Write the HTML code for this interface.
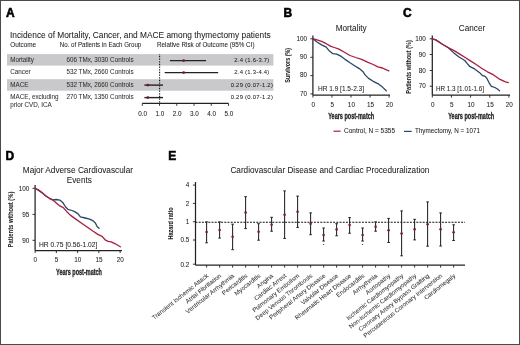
<!DOCTYPE html>
<html><head><meta charset="utf-8"><style>
html,body{margin:0;padding:0;background:#fff;}
body{width:520px;height:345px;overflow:hidden;position:relative;}
.frame{position:absolute;left:0;top:0;width:518px;height:343px;border:1px solid #4a4a4a;}
svg{position:absolute;left:0;top:0;filter:blur(0.3px);}
text{font-family:"Liberation Sans", sans-serif;stroke:#222;stroke-width:0.05px;paint-order:stroke;}
</style></head><body>
<svg width="520" height="345" viewBox="0 0 520 345">
<text x="5.9" y="16.8" font-size="12" text-anchor="start" font-weight="bold" fill="#000" style="stroke:#000;stroke-width:0.55px">A</text>
<text x="10" y="37.5" font-size="8.34" text-anchor="start" font-weight="normal" fill="#222" textLength="260.7" lengthAdjust="spacingAndGlyphs" >Incidence of Mortality, Cancer, and MACE among thymectomy patients</text>
<text x="10.2" y="47" font-size="6.7" text-anchor="start" font-weight="normal" fill="#222" textLength="25.9" lengthAdjust="spacingAndGlyphs" >Outcome</text>
<text x="59.8" y="47" font-size="6.7" text-anchor="start" font-weight="normal" fill="#222" textLength="81.5" lengthAdjust="spacingAndGlyphs" >No. of Patients in Each Group</text>
<text x="157" y="47" font-size="6.7" text-anchor="start" font-weight="normal" fill="#222" textLength="97.5" lengthAdjust="spacingAndGlyphs" >Relative Risk of Outcome (95% CI)</text>
<rect x="7" y="54.1" width="266.4" height="11.5" fill="#c9c9cb"/>
<rect x="7" y="79.2" width="266.4" height="11.5" fill="#c9c9cb"/>
<text x="10.2" y="62.3" font-size="6.3" text-anchor="start" font-weight="normal" fill="#333" >Mortality</text>
<text x="100" y="62.3" font-size="6.3" text-anchor="middle" font-weight="normal" fill="#333" >606 TMx, 3030 Controls</text>
<text x="251.9" y="62.3" font-size="5.9" text-anchor="middle" font-weight="normal" fill="#222" letter-spacing="0.25">2.4 (1.6-3.7)</text>
<line x1="169.88400000000001" y1="60.599999999999994" x2="206.08800000000002" y2="60.599999999999994" stroke="#222" stroke-width="1.4" />
<circle cx="183.68" cy="60.599999999999994" r="1.4" fill="#7a1233"/>
<text x="10.2" y="74.3" font-size="6.3" text-anchor="start" font-weight="normal" fill="#333" >Cancer</text>
<text x="100" y="74.3" font-size="6.3" text-anchor="middle" font-weight="normal" fill="#333" >532 TMx, 2660 Controls</text>
<text x="251.9" y="74.3" font-size="5.9" text-anchor="middle" font-weight="normal" fill="#222" letter-spacing="0.25">2.4 (1.3-4.4)</text>
<line x1="164.71200000000002" y1="72.6" x2="218.156" y2="72.6" stroke="#222" stroke-width="1.4" />
<circle cx="183.68" cy="72.6" r="1.4" fill="#7a1233"/>
<text x="10.2" y="86.8" font-size="6.3" text-anchor="start" font-weight="normal" fill="#333" >MACE</text>
<text x="100" y="86.8" font-size="6.3" text-anchor="middle" font-weight="normal" fill="#333" >532 TMx, 2660 Controls</text>
<text x="251.9" y="86.8" font-size="5.9" text-anchor="middle" font-weight="normal" fill="#222" letter-spacing="0.25">0.29 (0.07-1.2)</text>
<line x1="144.4" y1="85.1" x2="162.988" y2="85.1" stroke="#222" stroke-width="1.4" />
<circle cx="147.90" cy="85.1" r="1.4" fill="#7a1233"/>
<text x="10.2" y="99.3" font-size="6.3" text-anchor="start" font-weight="normal" fill="#333" >MACE, excluding</text>
<text x="100" y="99.3" font-size="6.3" text-anchor="middle" font-weight="normal" fill="#333" >270 TMx, 1350 Controls</text>
<text x="251.9" y="99.3" font-size="5.9" text-anchor="middle" font-weight="normal" fill="#222" letter-spacing="0.25">0.29 (0.07-1.2)</text>
<line x1="144.4" y1="97.6" x2="162.988" y2="97.6" stroke="#222" stroke-width="1.4" />
<circle cx="147.90" cy="97.6" r="1.4" fill="#7a1233"/>
<text x="10.2" y="107" font-size="6.3" text-anchor="start" font-weight="normal" fill="#333" >prior CVD, ICA</text>
<line x1="159.6" y1="54.5" x2="159.6" y2="103.3" stroke="#111" stroke-width="1.1" stroke-dasharray="0.8 0.8"/>
<line x1="142.3" y1="103.4" x2="228.5" y2="103.4" stroke="#222" stroke-width="1.25" />
<line x1="142.3" y1="103.4" x2="142.3" y2="105.8" stroke="#222" stroke-width="0.9" />
<text x="142.70000000000002" y="115.6" font-size="6.4" text-anchor="middle" font-weight="normal" fill="#222" >0.0</text>
<line x1="159.54000000000002" y1="103.4" x2="159.54000000000002" y2="105.8" stroke="#222" stroke-width="0.9" />
<text x="159.94000000000003" y="115.6" font-size="6.4" text-anchor="middle" font-weight="normal" fill="#222" >1.0</text>
<line x1="176.78" y1="103.4" x2="176.78" y2="105.8" stroke="#222" stroke-width="0.9" />
<text x="177.18" y="115.6" font-size="6.4" text-anchor="middle" font-weight="normal" fill="#222" >2.0</text>
<line x1="194.02" y1="103.4" x2="194.02" y2="105.8" stroke="#222" stroke-width="0.9" />
<text x="194.42000000000002" y="115.6" font-size="6.4" text-anchor="middle" font-weight="normal" fill="#222" >3.0</text>
<line x1="211.26" y1="103.4" x2="211.26" y2="105.8" stroke="#222" stroke-width="0.9" />
<text x="211.66" y="115.6" font-size="6.4" text-anchor="middle" font-weight="normal" fill="#222" >4.0</text>
<line x1="228.5" y1="103.4" x2="228.5" y2="105.8" stroke="#222" stroke-width="0.9" />
<text x="228.9" y="115.6" font-size="6.4" text-anchor="middle" font-weight="normal" fill="#222" >5.0</text>
<text x="283.4" y="16.8" font-size="12" text-anchor="start" font-weight="bold" fill="#000" style="stroke:#000;stroke-width:0.55px">B</text>
<text x="351.2" y="30.5" font-size="8.2" text-anchor="middle" font-weight="normal" fill="#222" >Mortality</text>
<line x1="312.9" y1="35.6" x2="312.9" y2="95" stroke="#222" stroke-width="1.25" />
<line x1="312.9" y1="95" x2="390" y2="95" stroke="#222" stroke-width="1.25" />
<line x1="310.29999999999995" y1="38.8" x2="312.9" y2="38.8" stroke="#222" stroke-width="0.9" />
<text x="307.09999999999997" y="40.599999999999994" font-size="6.4" text-anchor="end" font-weight="normal" fill="#222" >100</text>
<line x1="310.29999999999995" y1="57.3" x2="312.9" y2="57.3" stroke="#222" stroke-width="0.9" />
<text x="307.09999999999997" y="59.099999999999994" font-size="6.4" text-anchor="end" font-weight="normal" fill="#222" >90</text>
<line x1="310.29999999999995" y1="75.6" x2="312.9" y2="75.6" stroke="#222" stroke-width="0.9" />
<text x="307.09999999999997" y="77.39999999999999" font-size="6.4" text-anchor="end" font-weight="normal" fill="#222" >80</text>
<line x1="310.29999999999995" y1="93.9" x2="312.9" y2="93.9" stroke="#222" stroke-width="0.9" />
<text x="307.09999999999997" y="95.7" font-size="6.4" text-anchor="end" font-weight="normal" fill="#222" >70</text>
<line x1="312.9" y1="95" x2="312.9" y2="97.6" stroke="#222" stroke-width="0.9" />
<text x="313.29999999999995" y="106.7" font-size="6.4" text-anchor="middle" font-weight="normal" fill="#222" >0</text>
<line x1="331.95" y1="95" x2="331.95" y2="97.6" stroke="#222" stroke-width="0.9" />
<text x="332.34999999999997" y="106.7" font-size="6.4" text-anchor="middle" font-weight="normal" fill="#222" >5</text>
<line x1="351.0" y1="95" x2="351.0" y2="97.6" stroke="#222" stroke-width="0.9" />
<text x="351.4" y="106.7" font-size="6.4" text-anchor="middle" font-weight="normal" fill="#222" >10</text>
<line x1="370.04999999999995" y1="95" x2="370.04999999999995" y2="97.6" stroke="#222" stroke-width="0.9" />
<text x="370.44999999999993" y="106.7" font-size="6.4" text-anchor="middle" font-weight="normal" fill="#222" >15</text>
<line x1="389.09999999999997" y1="95" x2="389.09999999999997" y2="97.6" stroke="#222" stroke-width="0.9" />
<text x="389.49999999999994" y="106.7" font-size="6.4" text-anchor="middle" font-weight="normal" fill="#222" >20</text>
<text x="351.2" y="118.6" font-size="8.8" text-anchor="middle" font-weight="bold" fill="#222" textLength="46" lengthAdjust="spacingAndGlyphs" style="stroke:#222;stroke-width:0.3px">Years post-match</text>
<text transform="translate(289.6,65.3) rotate(-90)" font-size="7.4" font-weight="bold" text-anchor="middle" fill="#222" textLength="34.8" lengthAdjust="spacingAndGlyphs">Survivors (%)</text>
<text x="318" y="91" font-size="6.5" text-anchor="start" font-weight="normal" fill="#222" textLength="46" lengthAdjust="spacingAndGlyphs" >HR 1.9 [1.5-2.3]</text>
<polyline points="312.90,38.70 317.00,42.00 321.60,44.90 326.20,47.20 329.10,50.70 332.60,53.60 336.70,54.10 341.30,56.40 345.90,59.90 350.00,62.80 354.60,65.70 359.30,68.60 362.80,71.40 365.10,74.90 368.60,78.40 373.20,81.30 377.80,83.60 382.50,87.10 386.30,90.80" fill="none" stroke="#27466a" stroke-width="1.3" stroke-linejoin="round" stroke-linecap="round"/>
<polyline points="312.90,38.70 317.00,39.90 321.60,41.40 326.20,43.70 330.90,46.40 334.30,47.50 338.40,48.90 343.60,51.80 350.00,55.50 355.80,57.50 361.60,59.30 367.40,62.20 373.20,64.50 377.80,66.80 382.50,68.00 385.90,69.70 388.80,70.90" fill="none" stroke="#b01b3d" stroke-width="1.3" stroke-linejoin="round" stroke-linecap="round"/>
<text x="403.0" y="16.8" font-size="12" text-anchor="start" font-weight="bold" fill="#000" style="stroke:#000;stroke-width:0.55px">C</text>
<text x="472" y="30.7" font-size="8.2" text-anchor="middle" font-weight="normal" fill="#222" >Cancer</text>
<line x1="432.3" y1="35.6" x2="432.3" y2="95" stroke="#222" stroke-width="1.25" />
<line x1="432.3" y1="95" x2="510" y2="95" stroke="#222" stroke-width="1.25" />
<line x1="429.7" y1="38.8" x2="432.3" y2="38.8" stroke="#222" stroke-width="0.9" />
<text x="425.90000000000003" y="40.8" font-size="6.4" text-anchor="end" font-weight="normal" fill="#222" >100</text>
<line x1="429.7" y1="54.5" x2="432.3" y2="54.5" stroke="#222" stroke-width="0.9" />
<text x="425.90000000000003" y="56.5" font-size="6.4" text-anchor="end" font-weight="normal" fill="#222" >90</text>
<line x1="429.7" y1="70.5" x2="432.3" y2="70.5" stroke="#222" stroke-width="0.9" />
<text x="425.90000000000003" y="72.5" font-size="6.4" text-anchor="end" font-weight="normal" fill="#222" >80</text>
<line x1="429.7" y1="86.2" x2="432.3" y2="86.2" stroke="#222" stroke-width="0.9" />
<text x="425.90000000000003" y="88.2" font-size="6.4" text-anchor="end" font-weight="normal" fill="#222" >70</text>
<line x1="432.3" y1="95" x2="432.3" y2="97.6" stroke="#222" stroke-width="0.9" />
<text x="432.7" y="106.7" font-size="6.4" text-anchor="middle" font-weight="normal" fill="#222" >0</text>
<line x1="451.45" y1="95" x2="451.45" y2="97.6" stroke="#222" stroke-width="0.9" />
<text x="451.84999999999997" y="106.7" font-size="6.4" text-anchor="middle" font-weight="normal" fill="#222" >5</text>
<line x1="470.6" y1="95" x2="470.6" y2="97.6" stroke="#222" stroke-width="0.9" />
<text x="471.0" y="106.7" font-size="6.4" text-anchor="middle" font-weight="normal" fill="#222" >10</text>
<line x1="489.75" y1="95" x2="489.75" y2="97.6" stroke="#222" stroke-width="0.9" />
<text x="490.15" y="106.7" font-size="6.4" text-anchor="middle" font-weight="normal" fill="#222" >15</text>
<line x1="508.9" y1="95" x2="508.9" y2="97.6" stroke="#222" stroke-width="0.9" />
<text x="509.29999999999995" y="106.7" font-size="6.4" text-anchor="middle" font-weight="normal" fill="#222" >20</text>
<text x="471.2" y="118.6" font-size="8.8" text-anchor="middle" font-weight="bold" fill="#222" textLength="46" lengthAdjust="spacingAndGlyphs" style="stroke:#222;stroke-width:0.3px">Years post-match</text>
<text transform="translate(411,66.9) rotate(-90)" font-size="7.4" font-weight="bold" text-anchor="middle" fill="#222" textLength="53.5" lengthAdjust="spacingAndGlyphs">Patients without (%)</text>
<text x="436" y="90.5" font-size="6.5" text-anchor="start" font-weight="normal" fill="#222" textLength="48" lengthAdjust="spacingAndGlyphs" >HR 1.3 [1.01-1.6]</text>
<polyline points="432.30,38.90 435.80,39.90 441.60,43.70 448.60,48.00 453.20,52.40 459.00,57.00 464.80,60.50 467.10,63.40 470.00,66.70 474.60,68.90 479.30,72.40 482.20,75.30 485.10,76.40 486.80,78.20 489.10,82.80 491.40,86.30 494.90,87.50 497.80,89.20 499.60,90.90" fill="none" stroke="#27466a" stroke-width="1.3" stroke-linejoin="round" stroke-linecap="round"/>
<polyline points="432.30,38.90 435.80,39.90 441.60,43.70 448.60,47.80 453.20,50.10 459.00,53.60 464.80,57.30 470.00,60.60 475.80,64.30 481.60,68.30 487.40,71.80 493.20,74.70 499.00,78.80 504.80,81.70 508.30,82.60" fill="none" stroke="#b01b3d" stroke-width="1.3" stroke-linejoin="round" stroke-linecap="round"/>
<line x1="333.5" y1="131.2" x2="340.6" y2="131.2" stroke="#b01b3d" stroke-width="1.2" />
<text x="344" y="133.4" font-size="6.3" text-anchor="start" font-weight="normal" fill="#222" textLength="51" lengthAdjust="spacingAndGlyphs" >Control, N = 5355</text>
<line x1="404" y1="131.4" x2="411.7" y2="131.4" stroke="#27466a" stroke-width="1.2" />
<text x="415" y="133.4" font-size="6.3" text-anchor="start" font-weight="normal" fill="#222" textLength="65" lengthAdjust="spacingAndGlyphs" >Thymectomy, N = 1071</text>
<text x="5.6" y="159.6" font-size="12" text-anchor="start" font-weight="bold" fill="#000" style="stroke:#000;stroke-width:0.55px">D</text>
<text x="77.9" y="173.2" font-size="8.2" text-anchor="middle" font-weight="normal" fill="#222" textLength="110.2" lengthAdjust="spacingAndGlyphs" >Major Adverse Cardiovascular</text>
<text x="79.3" y="183.4" font-size="8.2" text-anchor="middle" font-weight="normal" fill="#222" >Events</text>
<line x1="35.1" y1="185" x2="35.1" y2="250.5" stroke="#222" stroke-width="1.25" />
<line x1="35.1" y1="250.5" x2="122" y2="250.5" stroke="#222" stroke-width="1.25" />
<line x1="32.5" y1="188.3" x2="35.1" y2="188.3" stroke="#222" stroke-width="0.9" />
<text x="29.3" y="190.60000000000002" font-size="6.4" text-anchor="end" font-weight="normal" fill="#222" >100</text>
<line x1="32.5" y1="214.4" x2="35.1" y2="214.4" stroke="#222" stroke-width="0.9" />
<text x="29.3" y="216.70000000000002" font-size="6.4" text-anchor="end" font-weight="normal" fill="#222" >95</text>
<line x1="32.5" y1="240.3" x2="35.1" y2="240.3" stroke="#222" stroke-width="0.9" />
<text x="29.3" y="242.60000000000002" font-size="6.4" text-anchor="end" font-weight="normal" fill="#222" >90</text>
<line x1="35.1" y1="250.5" x2="35.1" y2="253.1" stroke="#222" stroke-width="0.9" />
<text x="35.300000000000004" y="262.3" font-size="6.4" text-anchor="middle" font-weight="normal" fill="#222" >0</text>
<line x1="56.35" y1="250.5" x2="56.35" y2="253.1" stroke="#222" stroke-width="0.9" />
<text x="56.550000000000004" y="262.3" font-size="6.4" text-anchor="middle" font-weight="normal" fill="#222" >5</text>
<line x1="77.6" y1="250.5" x2="77.6" y2="253.1" stroke="#222" stroke-width="0.9" />
<text x="77.8" y="262.3" font-size="6.4" text-anchor="middle" font-weight="normal" fill="#222" >10</text>
<line x1="98.85" y1="250.5" x2="98.85" y2="253.1" stroke="#222" stroke-width="0.9" />
<text x="99.05" y="262.3" font-size="6.4" text-anchor="middle" font-weight="normal" fill="#222" >15</text>
<line x1="120.1" y1="250.5" x2="120.1" y2="253.1" stroke="#222" stroke-width="0.9" />
<text x="120.3" y="262.3" font-size="6.4" text-anchor="middle" font-weight="normal" fill="#222" >20</text>
<text x="79" y="274.5" font-size="8.8" text-anchor="middle" font-weight="bold" fill="#222" textLength="46" lengthAdjust="spacingAndGlyphs" style="stroke:#222;stroke-width:0.3px">Years post-match</text>
<text transform="translate(12.7,219.5) rotate(-90)" font-size="7.4" font-weight="bold" text-anchor="middle" fill="#222" textLength="55.8" lengthAdjust="spacingAndGlyphs">Patients without (%)</text>
<text x="39.0" y="246.7" font-size="6.5" text-anchor="start" font-weight="normal" fill="#222" textLength="58.4" lengthAdjust="spacingAndGlyphs" >HR 0.75 [0.56-1.02]</text>
<polyline points="35.50,188.50 42.40,192.90 45.90,196.00 49.40,198.30 52.90,199.80 56.30,199.50 59.80,200.10 62.70,202.40 65.60,207.00 67.90,209.30 72.00,210.50 74.60,211.60 78.10,213.90 80.40,216.80 85.10,218.00 89.70,219.10 93.20,220.90 95.50,223.20 97.20,226.70 99.10,228.30" fill="none" stroke="#27466a" stroke-width="1.3" stroke-linejoin="round" stroke-linecap="round"/>
<polyline points="35.50,188.50 39.00,190.20 42.40,193.10 45.90,196.00 49.40,198.30 52.90,200.10 56.30,203.00 59.80,205.90 63.30,207.60 66.80,211.70 70.30,215.10 75.80,219.10 81.60,223.20 87.40,227.20 93.20,231.30 97.80,234.40 102.10,236.40 105.10,239.80 108.20,241.30 111.20,241.80 115.30,243.80 120.30,246.80" fill="none" stroke="#b01b3d" stroke-width="1.3" stroke-linejoin="round" stroke-linecap="round"/>
<text x="168.3" y="159.8" font-size="12" text-anchor="start" font-weight="bold" fill="#000" style="stroke:#000;stroke-width:0.55px">E</text>
<text x="230.4" y="173.4" font-size="8.2" text-anchor="start" font-weight="normal" fill="#222" textLength="199" lengthAdjust="spacingAndGlyphs" >Cardiovascular Disease and Cardiac Proceduralization</text>
<line x1="195.5" y1="182" x2="195.5" y2="265.2" stroke="#222" stroke-width="1.25" />
<line x1="195.5" y1="265.2" x2="465" y2="265.2" stroke="#222" stroke-width="1.25" />
<line x1="192.9" y1="185.1" x2="195.5" y2="185.1" stroke="#222" stroke-width="0.9" />
<text x="189.3" y="187.4" font-size="6.4" text-anchor="end" font-weight="normal" fill="#222" >4</text>
<line x1="192.9" y1="203.39999999999998" x2="195.5" y2="203.39999999999998" stroke="#222" stroke-width="0.9" />
<text x="189.3" y="205.7" font-size="6.4" text-anchor="end" font-weight="normal" fill="#222" >2</text>
<line x1="192.9" y1="221.7" x2="195.5" y2="221.7" stroke="#222" stroke-width="0.9" />
<text x="189.3" y="224.0" font-size="6.4" text-anchor="end" font-weight="normal" fill="#222" >1</text>
<line x1="192.9" y1="240.0" x2="195.5" y2="240.0" stroke="#222" stroke-width="0.9" />
<text x="189.3" y="242.3" font-size="6.4" text-anchor="end" font-weight="normal" fill="#222" >0.5</text>
<line x1="192.9" y1="264.1912841364387" x2="195.5" y2="264.1912841364387" stroke="#222" stroke-width="0.9" />
<text x="189.3" y="267.1912841364387" font-size="6.4" text-anchor="end" font-weight="normal" fill="#222" >0.2</text>
<text transform="translate(173.2,223.5) rotate(-90)" font-size="7.4" font-weight="bold" text-anchor="middle" fill="#222" textLength="32.2" lengthAdjust="spacingAndGlyphs">Hazard ratio</text>
<line x1="195.5" y1="222.3" x2="465" y2="222.3" stroke="#111" stroke-width="1.1" stroke-dasharray="2 1.2"/>
<line x1="206.6" y1="221.9" x2="206.6" y2="242.8" stroke="#222" stroke-width="1.05" />
<line x1="205.29999999999998" y1="221.9" x2="207.9" y2="221.9" stroke="#222" stroke-width="1.0" />
<line x1="205.29999999999998" y1="242.8" x2="207.9" y2="242.8" stroke="#222" stroke-width="1.0" />
<circle cx="206.60" cy="232" r="1.3" fill="#8a1538"/>
<line x1="206.6" y1="265.2" x2="206.6" y2="267.59999999999997" stroke="#222" stroke-width="0.9" />
<text transform="translate(208.80,276.5) rotate(-38.5)" font-size="6.15" text-anchor="end" fill="#333">Transient Ischemic Attack</text>
<line x1="219.6" y1="221.9" x2="219.6" y2="238.1" stroke="#222" stroke-width="1.05" />
<line x1="218.29999999999998" y1="221.9" x2="220.9" y2="221.9" stroke="#222" stroke-width="1.0" />
<line x1="218.29999999999998" y1="238.1" x2="220.9" y2="238.1" stroke="#222" stroke-width="1.0" />
<circle cx="219.60" cy="230" r="1.3" fill="#8a1538"/>
<line x1="219.6" y1="265.2" x2="219.6" y2="267.59999999999997" stroke="#222" stroke-width="0.9" />
<text transform="translate(221.80,276.5) rotate(-38.5)" font-size="6.15" text-anchor="end" fill="#333">Atrial Fibrillation</text>
<line x1="232.6" y1="224.2" x2="232.6" y2="249.7" stroke="#222" stroke-width="1.05" />
<line x1="231.29999999999998" y1="224.2" x2="233.9" y2="224.2" stroke="#222" stroke-width="1.0" />
<line x1="231.29999999999998" y1="249.7" x2="233.9" y2="249.7" stroke="#222" stroke-width="1.0" />
<circle cx="232.60" cy="236.7" r="1.3" fill="#8a1538"/>
<line x1="232.6" y1="265.2" x2="232.6" y2="267.59999999999997" stroke="#222" stroke-width="0.9" />
<text transform="translate(234.80,276.5) rotate(-38.5)" font-size="6.15" text-anchor="end" fill="#333">Ventricular Arrhythmia</text>
<line x1="245.6" y1="196.7" x2="245.6" y2="228.6" stroke="#222" stroke-width="1.05" />
<line x1="244.29999999999998" y1="196.7" x2="246.9" y2="196.7" stroke="#222" stroke-width="1.0" />
<line x1="244.29999999999998" y1="228.6" x2="246.9" y2="228.6" stroke="#222" stroke-width="1.0" />
<circle cx="245.60" cy="212.6" r="1.3" fill="#8a1538"/>
<line x1="245.6" y1="265.2" x2="245.6" y2="267.59999999999997" stroke="#222" stroke-width="0.9" />
<text transform="translate(247.80,276.5) rotate(-38.5)" font-size="6.15" text-anchor="end" fill="#333">Pericarditis</text>
<line x1="258.6" y1="223.7" x2="258.6" y2="240.2" stroke="#222" stroke-width="1.05" />
<line x1="257.3" y1="223.7" x2="259.90000000000003" y2="223.7" stroke="#222" stroke-width="1.0" />
<line x1="257.3" y1="240.2" x2="259.90000000000003" y2="240.2" stroke="#222" stroke-width="1.0" />
<circle cx="258.60" cy="231.8" r="1.3" fill="#8a1538"/>
<line x1="258.6" y1="265.2" x2="258.6" y2="267.59999999999997" stroke="#222" stroke-width="0.9" />
<text transform="translate(260.80,276.5) rotate(-38.5)" font-size="6.15" text-anchor="end" fill="#333">Myocarditis</text>
<line x1="271.6" y1="217.3" x2="271.6" y2="231.2" stroke="#222" stroke-width="1.05" />
<line x1="270.3" y1="217.3" x2="272.90000000000003" y2="217.3" stroke="#222" stroke-width="1.0" />
<line x1="270.3" y1="231.2" x2="272.90000000000003" y2="231.2" stroke="#222" stroke-width="1.0" />
<circle cx="271.60" cy="224.8" r="1.3" fill="#8a1538"/>
<line x1="271.6" y1="265.2" x2="271.6" y2="267.59999999999997" stroke="#222" stroke-width="0.9" />
<text transform="translate(273.80,276.5) rotate(-38.5)" font-size="6.15" text-anchor="end" fill="#333">Angina</text>
<line x1="284.6" y1="190.9" x2="284.6" y2="238.4" stroke="#222" stroke-width="1.05" />
<line x1="283.3" y1="190.9" x2="285.90000000000003" y2="190.9" stroke="#222" stroke-width="1.0" />
<line x1="283.3" y1="238.4" x2="285.90000000000003" y2="238.4" stroke="#222" stroke-width="1.0" />
<circle cx="284.60" cy="214.7" r="1.3" fill="#8a1538"/>
<line x1="284.6" y1="265.2" x2="284.6" y2="267.59999999999997" stroke="#222" stroke-width="0.9" />
<text transform="translate(286.80,276.5) rotate(-38.5)" font-size="6.15" text-anchor="end" fill="#333">Cardiac Arrest</text>
<line x1="297.6" y1="196.1" x2="297.6" y2="227.4" stroke="#222" stroke-width="1.05" />
<line x1="296.3" y1="196.1" x2="298.90000000000003" y2="196.1" stroke="#222" stroke-width="1.0" />
<line x1="296.3" y1="227.4" x2="298.90000000000003" y2="227.4" stroke="#222" stroke-width="1.0" />
<circle cx="297.60" cy="211.8" r="1.3" fill="#8a1538"/>
<line x1="297.6" y1="265.2" x2="297.6" y2="267.59999999999997" stroke="#222" stroke-width="0.9" />
<text transform="translate(299.80,276.5) rotate(-38.5)" font-size="6.15" text-anchor="end" fill="#333">Pulmonary Embolism</text>
<line x1="310.6" y1="212.9" x2="310.6" y2="234.7" stroke="#222" stroke-width="1.05" />
<line x1="309.3" y1="212.9" x2="311.90000000000003" y2="212.9" stroke="#222" stroke-width="1.0" />
<line x1="309.3" y1="234.7" x2="311.90000000000003" y2="234.7" stroke="#222" stroke-width="1.0" />
<circle cx="310.60" cy="223.7" r="1.3" fill="#8a1538"/>
<line x1="310.6" y1="265.2" x2="310.6" y2="267.59999999999997" stroke="#222" stroke-width="0.9" />
<text transform="translate(312.80,276.5) rotate(-38.5)" font-size="6.15" text-anchor="end" fill="#333">Deep Venous Thrombosis</text>
<line x1="323.6" y1="228" x2="323.6" y2="241" stroke="#222" stroke-width="1.05" />
<line x1="322.3" y1="228" x2="324.90000000000003" y2="228" stroke="#222" stroke-width="1.0" />
<line x1="322.3" y1="241" x2="324.90000000000003" y2="241" stroke="#222" stroke-width="1.0" />
<circle cx="323.60" cy="235" r="1.3" fill="#8a1538"/>
<circle cx="323.60" cy="244.5" r="0.6" fill="#222"/>
<line x1="323.6" y1="265.2" x2="323.6" y2="267.59999999999997" stroke="#222" stroke-width="0.9" />
<text transform="translate(325.80,276.5) rotate(-38.5)" font-size="6.15" text-anchor="end" fill="#333">Peripheral Artery Disease</text>
<line x1="336.6" y1="223.7" x2="336.6" y2="235.8" stroke="#222" stroke-width="1.05" />
<line x1="335.3" y1="223.7" x2="337.90000000000003" y2="223.7" stroke="#222" stroke-width="1.0" />
<line x1="335.3" y1="235.8" x2="337.90000000000003" y2="235.8" stroke="#222" stroke-width="1.0" />
<circle cx="336.60" cy="229.4" r="1.3" fill="#8a1538"/>
<line x1="336.6" y1="265.2" x2="336.6" y2="267.59999999999997" stroke="#222" stroke-width="0.9" />
<text transform="translate(338.80,276.5) rotate(-38.5)" font-size="6.15" text-anchor="end" fill="#333">Valvular Disease</text>
<line x1="349.6" y1="217.6" x2="349.6" y2="233.2" stroke="#222" stroke-width="1.05" />
<line x1="348.3" y1="217.6" x2="350.90000000000003" y2="217.6" stroke="#222" stroke-width="1.0" />
<line x1="348.3" y1="233.2" x2="350.90000000000003" y2="233.2" stroke="#222" stroke-width="1.0" />
<circle cx="349.60" cy="225.1" r="1.3" fill="#8a1538"/>
<line x1="349.6" y1="265.2" x2="349.6" y2="267.59999999999997" stroke="#222" stroke-width="0.9" />
<text transform="translate(351.80,276.5) rotate(-38.5)" font-size="6.15" text-anchor="end" fill="#333">Rheumatic Heart Disease</text>
<line x1="362.6" y1="228" x2="362.6" y2="241" stroke="#222" stroke-width="1.05" />
<line x1="361.3" y1="228" x2="363.90000000000003" y2="228" stroke="#222" stroke-width="1.0" />
<line x1="361.3" y1="241" x2="363.90000000000003" y2="241" stroke="#222" stroke-width="1.0" />
<circle cx="362.60" cy="235" r="1.3" fill="#8a1538"/>
<circle cx="362.60" cy="244.5" r="0.6" fill="#222"/>
<line x1="362.6" y1="265.2" x2="362.6" y2="267.59999999999997" stroke="#222" stroke-width="0.9" />
<text transform="translate(364.80,276.5) rotate(-38.5)" font-size="6.15" text-anchor="end" fill="#333">Endocarditis</text>
<line x1="375.6" y1="221.9" x2="375.6" y2="231.2" stroke="#222" stroke-width="1.05" />
<line x1="374.3" y1="221.9" x2="376.90000000000003" y2="221.9" stroke="#222" stroke-width="1.0" />
<line x1="374.3" y1="231.2" x2="376.90000000000003" y2="231.2" stroke="#222" stroke-width="1.0" />
<circle cx="375.60" cy="226.8" r="1.3" fill="#8a1538"/>
<line x1="375.6" y1="265.2" x2="375.6" y2="267.59999999999997" stroke="#222" stroke-width="0.9" />
<text transform="translate(377.80,276.5) rotate(-38.5)" font-size="6.15" text-anchor="end" fill="#333">Arrhythmia</text>
<line x1="388.6" y1="218.4" x2="388.6" y2="242.5" stroke="#222" stroke-width="1.05" />
<line x1="387.3" y1="218.4" x2="389.90000000000003" y2="218.4" stroke="#222" stroke-width="1.0" />
<line x1="387.3" y1="242.5" x2="389.90000000000003" y2="242.5" stroke="#222" stroke-width="1.0" />
<circle cx="388.60" cy="230.3" r="1.3" fill="#8a1538"/>
<line x1="388.6" y1="265.2" x2="388.6" y2="267.59999999999997" stroke="#222" stroke-width="0.9" />
<text transform="translate(390.80,276.5) rotate(-38.5)" font-size="6.15" text-anchor="end" fill="#333">Aortopathy</text>
<line x1="401.6" y1="210.9" x2="401.6" y2="255.8" stroke="#222" stroke-width="1.05" />
<line x1="400.3" y1="210.9" x2="402.90000000000003" y2="210.9" stroke="#222" stroke-width="1.0" />
<line x1="400.3" y1="255.8" x2="402.90000000000003" y2="255.8" stroke="#222" stroke-width="1.0" />
<circle cx="401.60" cy="233.5" r="1.3" fill="#8a1538"/>
<line x1="401.6" y1="265.2" x2="401.6" y2="267.59999999999997" stroke="#222" stroke-width="0.9" />
<text transform="translate(403.80,276.5) rotate(-38.5)" font-size="6.15" text-anchor="end" fill="#333">Ischemic Cardiomyopathy</text>
<line x1="414.6" y1="219.3" x2="414.6" y2="239.9" stroke="#222" stroke-width="1.05" />
<line x1="413.3" y1="219.3" x2="415.90000000000003" y2="219.3" stroke="#222" stroke-width="1.0" />
<line x1="413.3" y1="239.9" x2="415.90000000000003" y2="239.9" stroke="#222" stroke-width="1.0" />
<circle cx="414.60" cy="229.2" r="1.3" fill="#8a1538"/>
<line x1="414.6" y1="265.2" x2="414.6" y2="267.59999999999997" stroke="#222" stroke-width="0.9" />
<text transform="translate(416.80,276.5) rotate(-38.5)" font-size="6.15" text-anchor="end" fill="#333">Non-Ischemic Cardiomyopathy</text>
<line x1="427.6" y1="201.9" x2="427.6" y2="246.2" stroke="#222" stroke-width="1.05" />
<line x1="426.3" y1="201.9" x2="428.90000000000003" y2="201.9" stroke="#222" stroke-width="1.0" />
<line x1="426.3" y1="246.2" x2="428.90000000000003" y2="246.2" stroke="#222" stroke-width="1.0" />
<circle cx="427.60" cy="224.2" r="1.3" fill="#8a1538"/>
<line x1="427.6" y1="265.2" x2="427.6" y2="267.59999999999997" stroke="#222" stroke-width="0.9" />
<text transform="translate(429.80,276.5) rotate(-38.5)" font-size="6.15" text-anchor="end" fill="#333">Coronary Artery Bypass Grafting</text>
<line x1="440.6" y1="212.9" x2="440.6" y2="246" stroke="#222" stroke-width="1.05" />
<line x1="439.3" y1="212.9" x2="441.90000000000003" y2="212.9" stroke="#222" stroke-width="1.0" />
<line x1="439.3" y1="246" x2="441.90000000000003" y2="246" stroke="#222" stroke-width="1.0" />
<circle cx="440.60" cy="229.2" r="1.3" fill="#8a1538"/>
<line x1="440.6" y1="265.2" x2="440.6" y2="267.59999999999997" stroke="#222" stroke-width="0.9" />
<text transform="translate(442.80,276.5) rotate(-38.5)" font-size="6.15" text-anchor="end" fill="#333">Percutaneous Coronary Intervention</text>
<line x1="453.6" y1="224.8" x2="453.6" y2="240.5" stroke="#222" stroke-width="1.05" />
<line x1="452.3" y1="224.8" x2="454.90000000000003" y2="224.8" stroke="#222" stroke-width="1.0" />
<line x1="452.3" y1="240.5" x2="454.90000000000003" y2="240.5" stroke="#222" stroke-width="1.0" />
<circle cx="453.60" cy="232.3" r="1.3" fill="#8a1538"/>
<line x1="453.6" y1="265.2" x2="453.6" y2="267.59999999999997" stroke="#222" stroke-width="0.9" />
<text transform="translate(455.80,276.5) rotate(-38.5)" font-size="6.15" text-anchor="end" fill="#333">Cardiomegaly</text>
</svg>
<div class="frame"></div>
</body></html>
